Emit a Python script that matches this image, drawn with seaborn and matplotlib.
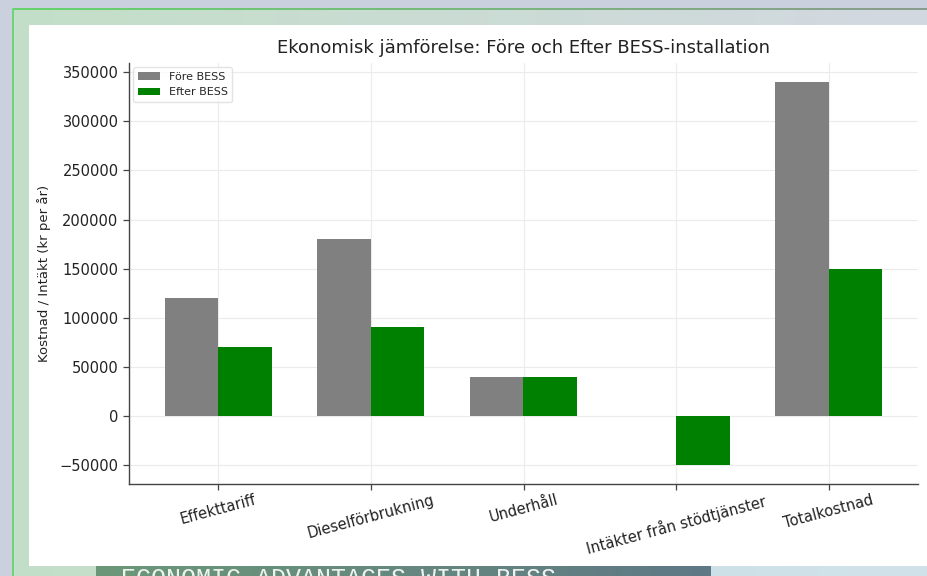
import numpy as np
import pandas as pd
import matplotlib.pyplot as plt
import matplotlib.colors as mcolors
import seaborn as sns

# Data
categories = ["Effekttariff", "Dieselförbrukning", "Underhåll",
              "Intäkter från stödtjänster", "Totalkostnad"]
fore_bess = [120000, 180000, 40000, 0, 340000]
efter_bess = [70000, 90000, 40000, -50000, 150000]
series = ["Före BESS", "Efter BESS"]
colors = ["gray", "green"]

df = pd.DataFrame({
    "Kategori": categories * 2,
    "Värde": fore_bess + efter_bess,
    "Serie": [series[0]] * len(categories) + [series[1]] * len(categories),
})

sns.set_theme(style="whitegrid")
plt.rcParams['font.family'] = ['DejaVu Sans']

W, H = 928, 576
fig = plt.figure(figsize=(W / 100, H / 100), dpi=100)
fig.patch.set_facecolor("#cbd0de")

# slide background drawn in pixel coordinates
bg = fig.add_axes([0, 0, 1, 1], zorder=-10)
bg.axis("off")


def hgrad(x0, x1, y0, y1, c0, c1):
    a = np.array(mcolors.to_rgb(c0))
    b = np.array(mcolors.to_rgb(c1))
    t = np.linspace(0, 1, 256)[None, :, None]
    img = a + (b - a) * t
    bg.imshow(img, extent=(x0, x1, y1, y0), aspect="auto", interpolation="bilinear")


hgrad(14, W, 10, H, "#c3dfc8", "#d3d8e1")          # green frame panel
hgrad(711, W, 566, H, "#cde0e8", "#d2e2ea")          # light blue corner
bg.plot([13.5, 13.5], [9, H], color="#66d46c", lw=1.3)
hgrad(13, W, 8.8, 10.2, "#66d46c", "#8a9c8e")        # top frame line
bg.add_patch(plt.Rectangle((29, 25), W - 29, 541, color="white", lw=0))
hgrad(96, 711, 555, H, "#6c9878", "#5f7886")          # title box
bg.text(121, 586, "ECONOMIC ADVANTAGES WITH BESS", family="Liberation Mono",
        fontsize=18, color="#eef2ee", va="baseline", ha="left")
bg.set_xlim(0, W)
bg.set_ylim(H, 0)

# main chart
ax = fig.add_axes([129 / W, 1 - 484 / H, (918 - 129) / W, (484 - 63) / H])
sns.barplot(data=df, x="Kategori", y="Värde", hue="Serie", hue_order=series,
            palette=colors, width=0.7, errorbar=None, saturation=1,
            linewidth=0, ax=ax)

ax.set_xlim(-0.585, 4.585)
ax.set_ylim(-69500, 359500)
ax.set_yticks(range(-50000, 350001, 50000))
ax.set_xlabel("")
ax.set_ylabel("Kostnad / Intäkt (kr per år)", fontsize=9.5, labelpad=6, color="#222222")
ax.set_title("Ekonomisk jämförelse: Före och Efter BESS-installation",
             fontsize=13, pad=7, color="#222222")
ax.tick_params(axis="both", length=4, width=0.9, color="#444444", bottom=True, left=True)
ax.tick_params(axis="y", labelsize=10.5, labelcolor="#222222")
ax.tick_params(axis="x", labelsize=10.5, labelcolor="#222222", pad=2)
plt.setp(ax.get_xticklabels(), rotation=15, ha="center")

ax.grid(True, color="#ebebeb", linewidth=0.8)
ax.set_axisbelow(True)
for s in ["top", "right"]:
    ax.spines[s].set_visible(False)
for s in ["left", "bottom"]:
    ax.spines[s].set_color("#444444")
    ax.spines[s].set_linewidth(1.0)
ax.set_facecolor("none")

handles, labels = ax.get_legend_handles_labels()
leg = ax.legend(handles, labels, loc="upper left", fontsize=8, frameon=True,
                borderaxespad=0.4)
leg.get_frame().set_edgecolor("#dddddd")

fig.savefig("out.png", dpi=100)
